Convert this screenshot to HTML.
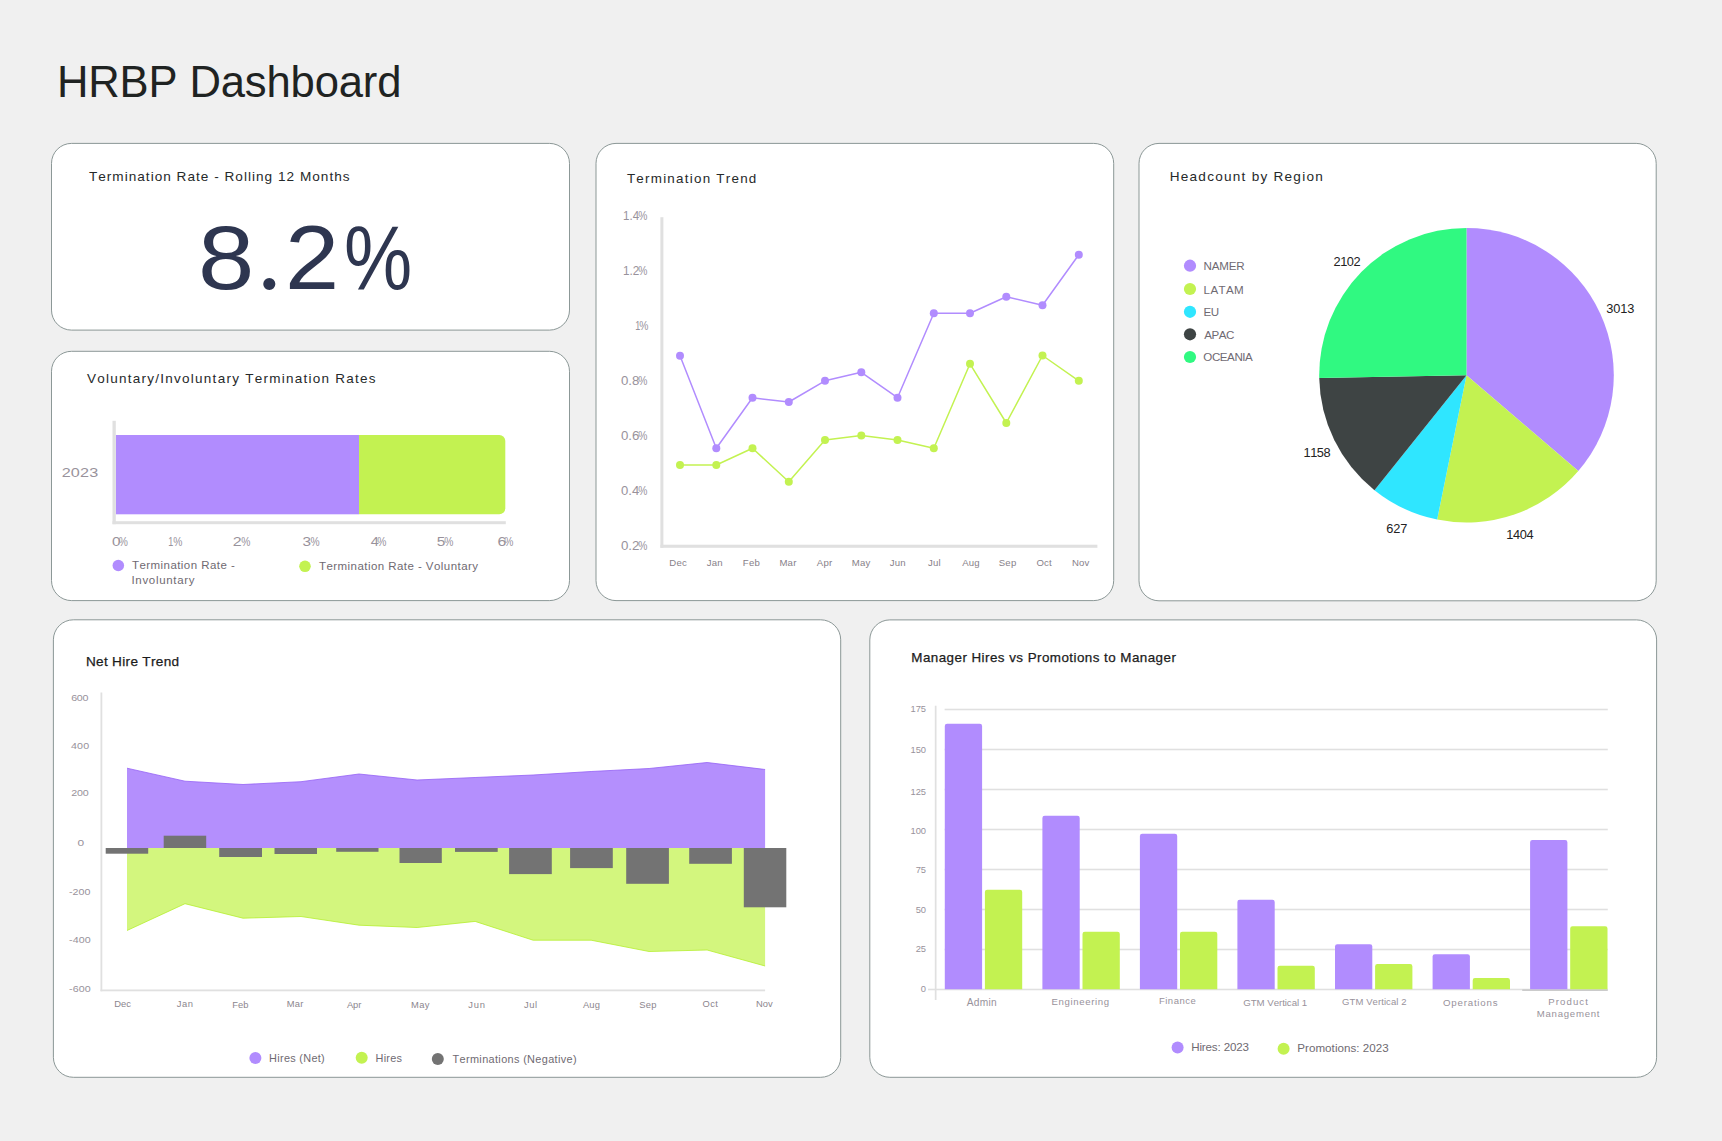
<!DOCTYPE html>
<html lang="en"><head><meta charset="utf-8"><title>HRBP Dashboard</title>
<style>
html,body{margin:0;padding:0}
body{width:1722px;height:1141px;background:#f0f0f0;position:relative;overflow:hidden;font-family:"Liberation Sans",sans-serif}
header,section{position:absolute;margin:0;padding:0}
svg{display:block;overflow:visible}
svg text{font-family:"Liberation Sans",sans-serif;white-space:pre;font-kerning:none}
.card{fill:#fff;stroke:#7f8c8b;stroke-width:.9}
.m{stroke:#1c1c1c;stroke-width:.25px}
</style></head><body>
<main>
<header style="left:40px;top:50px;width:480px;height:65px"><svg width="480" height="65" viewBox="40 50 480 65" role="heading" aria-level="1">
<text x="56.92" y="97.00" font-size="43.6" fill="#1f2322" letter-spacing="-0.151">HRBP Dashboard</text>
</svg></header>
<section id="kpi" aria-label="Termination Rate - Rolling 12 Months" style="left:49px;top:141px;width:523px;height:192px"><svg width="523" height="192" viewBox="49 141 523 192">
<rect class="card" x="51.5" y="143.4" width="518.0" height="186.7" rx="20" ry="20"/>
<text x="88.89" y="181.20" font-size="13.6" fill="#26292a" letter-spacing="1.015">Termination Rate - Rolling 12 Months</text>
<text font-size="91" fill="#2e3650"><tspan x="197.90" y="289.30" textLength="56.30" lengthAdjust="spacingAndGlyphs">8</tspan><tspan x="256.55" y="288.85" style="font-family:'Liberation Serif',serif;font-size:102.375px">.</tspan><tspan x="285.00" y="289.00" textLength="54.20" lengthAdjust="spacingAndGlyphs">2</tspan><tspan x="344.07" y="289.30" textLength="68.17" lengthAdjust="spacingAndGlyphs">%</tspan></text>
</svg></section>
<section id="stackbar" aria-label="Voluntary/Involuntary Termination Rates" style="left:49px;top:349px;width:523px;height:254px"><svg width="523" height="254" viewBox="49 349 523 254">
<rect class="card" x="51.5" y="351.3" width="518.0" height="249.3" rx="20" ry="20"/>
<text x="86.94" y="382.70" font-size="13.5" fill="#26292a" letter-spacing="1.257">Voluntary/Involuntary Termination Rates</text>
<rect x="115.8" y="435" width="243.3" height="79.3" fill="#b18cfe"/>
<path d="M359 435H499.3a6 6 0 0 1 6 6V508.3a6 6 0 0 1 -6 6H359Z" fill="#c3f251"/>
<rect x="112.5" y="420.8" width="3.3" height="103.4" fill="#e0e0e0"/>
<rect x="112.5" y="521.2" width="393.3" height="3" fill="#e0e0e0"/>
<text transform="translate(61.69 477.20) scale(1.2 1)" font-size="13.5" fill="#98929b" letter-spacing="0.136">2023</text>
<text y="546.20" font-size="12" fill="#98929b"><tspan x="111.90" textLength="8.49" lengthAdjust="spacingAndGlyphs">0</tspan><tspan x="118.73" textLength="9.13" lengthAdjust="spacingAndGlyphs">%</tspan></text>
<text y="546.20" font-size="12" fill="#98929b"><tspan x="168.31" textLength="5.03" lengthAdjust="spacingAndGlyphs">1</tspan><tspan x="173.23" textLength="9.13" lengthAdjust="spacingAndGlyphs">%</tspan></text>
<text y="546.20" font-size="12" fill="#98929b"><tspan x="232.69" textLength="8.91" lengthAdjust="spacingAndGlyphs">2</tspan><tspan x="241.23" textLength="9.13" lengthAdjust="spacingAndGlyphs">%</tspan></text>
<text y="546.20" font-size="12" fill="#98929b"><tspan x="302.41" textLength="8.56" lengthAdjust="spacingAndGlyphs">3</tspan><tspan x="310.43" textLength="9.13" lengthAdjust="spacingAndGlyphs">%</tspan></text>
<text y="546.20" font-size="12" fill="#98929b"><tspan x="370.67" textLength="8.06" lengthAdjust="spacingAndGlyphs">4</tspan><tspan x="377.23" textLength="9.13" lengthAdjust="spacingAndGlyphs">%</tspan></text>
<text y="546.20" font-size="12" fill="#98929b"><tspan x="436.88" textLength="8.56" lengthAdjust="spacingAndGlyphs">5</tspan><tspan x="444.23" textLength="9.13" lengthAdjust="spacingAndGlyphs">%</tspan></text>
<text y="546.20" font-size="12" fill="#98929b"><tspan x="497.50" textLength="8.80" lengthAdjust="spacingAndGlyphs">6</tspan><tspan x="504.23" textLength="9.13" lengthAdjust="spacingAndGlyphs">%</tspan></text>
<circle cx="118.3" cy="565.5" r="5.8" fill="#b18cfe"/>
<circle cx="305" cy="566.3" r="5.8" fill="#c3f251"/>
<text x="131.94" y="569.20" font-size="11.5" fill="#6f6a72" letter-spacing="0.444">Termination Rate -</text>
<text x="131.44" y="584.20" font-size="11.5" fill="#6f6a72" letter-spacing="0.683">Involuntary</text>
<text x="318.94" y="570.00" font-size="11.5" fill="#6f6a72" letter-spacing="0.447">Termination Rate - Voluntary</text>
</svg></section>
<section id="linechart" aria-label="Termination Trend" style="left:594px;top:141px;width:522px;height:462px"><svg width="522" height="462" viewBox="594 141 522 462">
<rect class="card" x="596" y="143.4" width="517.7" height="457.2" rx="20" ry="20"/>
<text x="626.90" y="183.00" font-size="13.4" fill="#26292a" letter-spacing="1.249">Termination Trend</text>
<rect x="660.4" y="217.2" width="3" height="330.6" fill="#e0e0e0"/>
<rect x="660.4" y="544.7" width="437" height="3.1" fill="#e0e0e0"/>
<text y="219.70" font-size="12" fill="#98929b"><tspan x="623.12" textLength="16.02" lengthAdjust="spacingAndGlyphs">1.4</tspan><tspan x="638.23" textLength="9.13" lengthAdjust="spacingAndGlyphs">%</tspan></text>
<text y="274.70" font-size="12" fill="#98929b"><tspan x="623.11" textLength="16.28" lengthAdjust="spacingAndGlyphs">1.2</tspan><tspan x="638.23" textLength="9.13" lengthAdjust="spacingAndGlyphs">%</tspan></text>
<text y="329.70" font-size="12" fill="#98929b"><tspan x="635.31" textLength="5.03" lengthAdjust="spacingAndGlyphs">1</tspan><tspan x="639.23" textLength="9.13" lengthAdjust="spacingAndGlyphs">%</tspan></text>
<text y="384.70" font-size="12" fill="#98929b"><tspan x="620.98" textLength="18.39" lengthAdjust="spacingAndGlyphs">0.8</tspan><tspan x="638.23" textLength="9.13" lengthAdjust="spacingAndGlyphs">%</tspan></text>
<text y="439.70" font-size="12" fill="#98929b"><tspan x="620.98" textLength="18.40" lengthAdjust="spacingAndGlyphs">0.6</tspan><tspan x="638.23" textLength="9.13" lengthAdjust="spacingAndGlyphs">%</tspan></text>
<text y="494.70" font-size="12" fill="#98929b"><tspan x="620.99" textLength="18.19" lengthAdjust="spacingAndGlyphs">0.4</tspan><tspan x="638.23" textLength="9.13" lengthAdjust="spacingAndGlyphs">%</tspan></text>
<text y="549.70" font-size="12" fill="#98929b"><tspan x="620.98" textLength="18.49" lengthAdjust="spacingAndGlyphs">0.2</tspan><tspan x="638.23" textLength="9.13" lengthAdjust="spacingAndGlyphs">%</tspan></text>
<polyline points="680.0,465 716.3,465 752.5,448.3 788.8,481.7 825.0,440 861.3,435.5 897.5,440 933.8,448.3 970.0,363.8 1006.3,423 1042.5,355.5 1078.8,380.8" fill="none" stroke="#c3f251" stroke-width="1.5" stroke-linejoin="round"/>
<circle cx="680.0" cy="465" r="4" fill="#c3f251"/>
<circle cx="716.3" cy="465" r="4" fill="#c3f251"/>
<circle cx="752.5" cy="448.3" r="4" fill="#c3f251"/>
<circle cx="788.8" cy="481.7" r="4" fill="#c3f251"/>
<circle cx="825.0" cy="440" r="4" fill="#c3f251"/>
<circle cx="861.3" cy="435.5" r="4" fill="#c3f251"/>
<circle cx="897.5" cy="440" r="4" fill="#c3f251"/>
<circle cx="933.8" cy="448.3" r="4" fill="#c3f251"/>
<circle cx="970.0" cy="363.8" r="4" fill="#c3f251"/>
<circle cx="1006.3" cy="423" r="4" fill="#c3f251"/>
<circle cx="1042.5" cy="355.5" r="4" fill="#c3f251"/>
<circle cx="1078.8" cy="380.8" r="4" fill="#c3f251"/>
<polyline points="680.0,355.7 716.3,448.3 752.5,397.8 788.8,402 825.0,380.8 861.3,372.3 897.5,397.7 933.8,313.3 970.0,313.3 1006.3,296.7 1042.5,305.3 1078.8,254.7" fill="none" stroke="#b18cfe" stroke-width="1.5" stroke-linejoin="round"/>
<circle cx="680.0" cy="355.7" r="4" fill="#b18cfe"/>
<circle cx="716.3" cy="448.3" r="4" fill="#b18cfe"/>
<circle cx="752.5" cy="397.8" r="4" fill="#b18cfe"/>
<circle cx="788.8" cy="402" r="4" fill="#b18cfe"/>
<circle cx="825.0" cy="380.8" r="4" fill="#b18cfe"/>
<circle cx="861.3" cy="372.3" r="4" fill="#b18cfe"/>
<circle cx="897.5" cy="397.7" r="4" fill="#b18cfe"/>
<circle cx="933.8" cy="313.3" r="4" fill="#b18cfe"/>
<circle cx="970.0" cy="313.3" r="4" fill="#b18cfe"/>
<circle cx="1006.3" cy="296.7" r="4" fill="#b18cfe"/>
<circle cx="1042.5" cy="305.3" r="4" fill="#b18cfe"/>
<circle cx="1078.8" cy="254.7" r="4" fill="#b18cfe"/>
<text x="669.36" y="566.20" font-size="9.6" fill="#878189" letter-spacing="0.200">Dec</text>
<text x="706.76" y="566.20" font-size="9.6" fill="#878189" letter-spacing="0.200">Jan</text>
<text x="742.83" y="566.20" font-size="9.6" fill="#878189" letter-spacing="0.200">Feb</text>
<text x="779.43" y="566.20" font-size="9.6" fill="#878189" letter-spacing="0.200">Mar</text>
<text x="816.83" y="566.20" font-size="9.6" fill="#878189" letter-spacing="0.200">Apr</text>
<text x="851.83" y="566.20" font-size="9.6" fill="#878189" letter-spacing="0.200">May</text>
<text x="889.76" y="566.20" font-size="9.6" fill="#878189" letter-spacing="0.200">Jun</text>
<text x="927.96" y="566.20" font-size="9.6" fill="#878189" letter-spacing="0.200">Jul</text>
<text x="962.16" y="566.20" font-size="9.6" fill="#878189" letter-spacing="0.200">Aug</text>
<text x="998.76" y="566.20" font-size="9.6" fill="#878189" letter-spacing="0.200">Sep</text>
<text x="1036.43" y="566.20" font-size="9.6" fill="#878189" letter-spacing="0.200">Oct</text>
<text x="1071.96" y="566.20" font-size="9.6" fill="#878189" letter-spacing="0.200">Nov</text>
</svg></section>
<section id="pie" aria-label="Headcount by Region" style="left:1137px;top:141px;width:522px;height:462px"><svg width="522" height="462" viewBox="1137 141 522 462">
<rect class="card" x="1139" y="143.4" width="517.2" height="457.4" rx="20" ry="20"/>
<text x="1169.68" y="181.20" font-size="13.6" fill="#26292a" letter-spacing="1.244">Headcount by Region</text>
<path d="M1466.5 375.2L1466.50 227.90A147.3 147.3 0 0 1 1578.30 471.10Z" fill="#b18cfe"/>
<path d="M1466.5 375.2L1578.30 471.10A147.3 147.3 0 0 1 1437.16 519.55Z" fill="#c3f251"/>
<path d="M1466.5 375.2L1437.16 519.55A147.3 147.3 0 0 1 1374.46 490.20Z" fill="#2fe6ff"/>
<path d="M1466.5 375.2L1374.46 490.20A147.3 147.3 0 0 1 1319.23 378.10Z" fill="#3e4444"/>
<path d="M1466.5 375.2L1319.23 378.10A147.3 147.3 0 0 1 1466.50 227.90Z" fill="#30f981"/>
<circle cx="1190" cy="265.7" r="6.1" fill="#b18cfe"/>
<text x="1203.55" y="269.90" font-size="11.6" fill="#6f6a72" letter-spacing="-0.175">NAMER</text>
<circle cx="1190" cy="289" r="6.1" fill="#c3f251"/>
<text x="1203.55" y="293.70" font-size="11.6" fill="#6f6a72" letter-spacing="0.382">LATAM</text>
<circle cx="1190" cy="311.8" r="6.1" fill="#2fe6ff"/>
<text x="1203.54" y="316.00" font-size="11.6" fill="#6f6a72" letter-spacing="-0.450">EU</text>
<circle cx="1190" cy="334.3" r="6.1" fill="#3e4444"/>
<text x="1204.24" y="338.50" font-size="11.6" fill="#6f6a72" letter-spacing="-0.450">APAC</text>
<circle cx="1190" cy="357" r="6.1" fill="#30f981"/>
<text x="1203.33" y="361.20" font-size="11.6" fill="#6f6a72" letter-spacing="-0.450">OCEANIA</text>
<text x="1606.21" y="313.00" font-size="12.8" fill="#222" letter-spacing="-0.142">3013</text>
<text x="1333.54" y="265.80" font-size="12.8" fill="#222" letter-spacing="-0.450">2102</text>
<text x="1303.48" y="457.00" font-size="12.8" fill="#222" letter-spacing="-0.450">1158</text>
<text x="1386.35" y="533.00" font-size="12.8" fill="#222" letter-spacing="-0.181">627</text>
<text x="1506.23" y="538.80" font-size="12.8" fill="#222" letter-spacing="-0.342">1404</text>
</svg></section>
<section id="area" aria-label="Net Hire Trend" style="left:51px;top:617px;width:792px;height:463px"><svg width="792" height="463" viewBox="51 617 792 463">
<rect class="card" x="53.4" y="619.8" width="787.3" height="457.5" rx="20" ry="20"/>
<text x="85.88" y="666.20" font-size="13.6" fill="#1c1c1c" letter-spacing="0.316" class="m">Net Hire Trend</text>
<path d="M127.0 848 L127.0 930.5 L185.0 903.7 L243.0 918.2 L301.0 916.5 L359.0 925.2 L417.1 927.5 L475.1 921.4 L533.1 940.2 L591.1 940.2 L649.1 951.5 L707.1 950 L765.1 966 L765.1 848Z" fill="#d3f67e"/>
<polyline points="127.0,930.5 185.0,903.7 243.0,918.2 301.0,916.5 359.0,925.2 417.1,927.5 475.1,921.4 533.1,940.2 591.1,940.2 649.1,951.5 707.1,950 765.1,966" fill="none" stroke="#b5ef2f" stroke-width="0.8"/>
<path d="M127.0 848 L127.0 768.2 L185.0 781.2 L243.0 784.5 L301.0 781.7 L359.0 774 L417.1 780 L475.1 777.5 L533.1 775 L591.1 771.5 L649.1 768.5 L707.1 762.5 L765.1 769.5 L765.1 848Z" fill="#b48ffd"/>
<polyline points="127.0,768.2 185.0,781.2 243.0,784.5 301.0,781.7 359.0,774 417.1,780 475.1,777.5 533.1,775 591.1,771.5 649.1,768.5 707.1,762.5 765.1,769.5" fill="none" stroke="#9461f5" stroke-width="0.8"/>
<rect x="105.7" y="848" width="42.5" height="5.7" fill="#737373"/>
<rect x="163.7" y="835.7" width="42.5" height="12.3" fill="#737373"/>
<rect x="219.2" y="848" width="42.8" height="9.0" fill="#737373"/>
<rect x="274.5" y="848" width="42.5" height="6.0" fill="#737373"/>
<rect x="336.2" y="848" width="42.3" height="3.8" fill="#737373"/>
<rect x="399.5" y="848" width="42.3" height="15.0" fill="#737373"/>
<rect x="455" y="848" width="42.7" height="3.9" fill="#737373"/>
<rect x="509.1" y="848" width="42.7" height="26.1" fill="#737373"/>
<rect x="570.1" y="848" width="42.7" height="20.1" fill="#737373"/>
<rect x="626.2" y="848" width="42.7" height="35.8" fill="#737373"/>
<rect x="689.2" y="848" width="42.7" height="15.8" fill="#737373"/>
<rect x="743.8" y="848" width="42.5" height="59.3" fill="#737373"/>
<rect x="100.5" y="692.5" width="1.8" height="298.8" fill="#e0e0e0"/>
<rect x="100.5" y="989.5" width="664.6" height="1.8" fill="#e0e0e0"/>
<text transform="translate(71.16 701.30) scale(1.15 1)" font-size="9.3" fill="#98929b" letter-spacing="-0.254">600</text>
<text transform="translate(70.95 749.00) scale(1.15 1)" font-size="9.3" fill="#98929b" letter-spacing="0.139">400</text>
<text transform="translate(71.16 796.30) scale(1.15 1)" font-size="9.3" fill="#98929b" letter-spacing="-0.169">200</text>
<text y="845.80" font-size="9.3" fill="#98929b"><tspan x="77.53" textLength="6.63" lengthAdjust="spacingAndGlyphs">0</tspan></text>
<text transform="translate(69.02 895.00) scale(1.15 1)" font-size="9.3" fill="#98929b">-200</text>
<text transform="translate(69.02 943.30) scale(1.15 1)" font-size="9.3" fill="#98929b" letter-spacing="0.083">-400</text>
<text transform="translate(69.02 992.30) scale(1.15 1)" font-size="9.3" fill="#98929b" letter-spacing="0.083">-600</text>
<text x="114.23" y="1007.00" font-size="9.4" fill="#8c868e" letter-spacing="0.001">Dec</text>
<text x="176.85" y="1007.00" font-size="9.4" fill="#8c868e" letter-spacing="0.551">Jan</text>
<text x="232.23" y="1008.00" font-size="9.4" fill="#8c868e" letter-spacing="0.084">Feb</text>
<text x="286.73" y="1007.00" font-size="9.4" fill="#8c868e" letter-spacing="0.219">Mar</text>
<text x="346.98" y="1008.00" font-size="9.4" fill="#8c868e" letter-spacing="-0.127">Apr</text>
<text x="410.93" y="1008.00" font-size="9.4" fill="#8c868e" letter-spacing="0.416">May</text>
<text x="468.15" y="1008.00" font-size="9.4" fill="#8c868e" letter-spacing="0.801">Jun</text>
<text x="523.95" y="1008.00" font-size="9.4" fill="#8c868e" letter-spacing="0.630">Jul</text>
<text x="582.98" y="1008.00" font-size="9.4" fill="#8c868e" letter-spacing="0.099">Aug</text>
<text x="639.27" y="1008.00" font-size="9.4" fill="#8c868e" letter-spacing="0.198">Sep</text>
<text x="702.45" y="1007.00" font-size="9.4" fill="#8c868e" letter-spacing="0.445">Oct</text>
<text x="756.03" y="1007.00" font-size="9.4" fill="#8c868e" letter-spacing="0.044">Nov</text>
<circle cx="255.4" cy="1058" r="6" fill="#b18cfe"/>
<circle cx="361.7" cy="1057.8" r="6" fill="#c3f251"/>
<circle cx="437.8" cy="1058.9" r="6" fill="#737373"/>
<text x="269.11" y="1062.30" font-size="10.9" fill="#6f6a72" letter-spacing="0.298">Hires (Net)</text>
<text x="375.61" y="1062.30" font-size="10.9" fill="#6f6a72" letter-spacing="0.213">Hires</text>
<text x="452.56" y="1063.10" font-size="10.9" fill="#6f6a72" letter-spacing="0.355">Terminations (Negative)</text>
</svg></section>
<section id="bars" aria-label="Manager Hires vs Promotions to Manager" style="left:867px;top:617px;width:792px;height:463px"><svg width="792" height="463" viewBox="867 617 792 463">
<rect class="card" x="869.8" y="619.9" width="786.8" height="457.4" rx="20" ry="20"/>
<text x="911.30" y="662.20" font-size="13.4" fill="#1c1c1c" letter-spacing="0.452" class="m">Manager Hires vs Promotions to Manager</text>
<rect x="944.6" y="708.7" width="663.2" height="1.6" fill="#e0e0e0"/>
<text x="910.61" y="712.00" font-size="9.4" fill="#98929b" letter-spacing="-0.100">175</text>
<rect x="944.6" y="748.7" width="663.2" height="1.6" fill="#e0e0e0"/>
<text x="910.58" y="752.70" font-size="9.4" fill="#98929b" letter-spacing="-0.100">150</text>
<rect x="944.6" y="788.7" width="663.2" height="1.6" fill="#e0e0e0"/>
<text x="910.61" y="794.90" font-size="9.4" fill="#98929b" letter-spacing="-0.100">125</text>
<rect x="944.6" y="828.7" width="663.2" height="1.6" fill="#e0e0e0"/>
<text x="910.58" y="833.90" font-size="9.4" fill="#98929b" letter-spacing="-0.100">100</text>
<rect x="944.6" y="868.7" width="663.2" height="1.6" fill="#e0e0e0"/>
<text x="915.74" y="872.80" font-size="9.4" fill="#98929b" letter-spacing="-0.100">75</text>
<rect x="944.6" y="908.7" width="663.2" height="1.6" fill="#e0e0e0"/>
<text x="915.71" y="912.80" font-size="9.4" fill="#98929b" letter-spacing="-0.100">50</text>
<rect x="944.6" y="948.7" width="663.2" height="1.6" fill="#e0e0e0"/>
<text x="915.74" y="952.00" font-size="9.4" fill="#98929b" letter-spacing="-0.100">25</text>
<rect x="928" y="988.7" width="679.8" height="1.6" fill="#e0e0e0"/>
<text x="920.84" y="991.90" font-size="9.4" fill="#98929b" letter-spacing="-0.100">0</text>
<rect x="934.8" y="705.7" width="1.7" height="294.3" fill="#e0e0e0"/>
<rect x="1522.2" y="989.6" width="85.6" height="1.1" fill="#b9b9b9"/>
<path d="M944.8 989.2V726.0a2.3 2.3 0 0 1 2.3 -2.3H979.8a2.3 2.3 0 0 1 2.3 2.3V989.2Z" fill="#b18cfe"/>
<path d="M984.9 989.2V892.1a2.3 2.3 0 0 1 2.3 -2.3H1019.9a2.3 2.3 0 0 1 2.3 2.3V989.2Z" fill="#c3f251"/>
<path d="M1042.4 989.2V818.1a2.3 2.3 0 0 1 2.3 -2.3H1077.4a2.3 2.3 0 0 1 2.3 2.3V989.2Z" fill="#b18cfe"/>
<path d="M1082.5 989.2V934.0a2.3 2.3 0 0 1 2.3 -2.3H1117.5a2.3 2.3 0 0 1 2.3 2.3V989.2Z" fill="#c3f251"/>
<path d="M1139.9 989.2V836.1a2.3 2.3 0 0 1 2.3 -2.3H1174.9a2.3 2.3 0 0 1 2.3 2.3V989.2Z" fill="#b18cfe"/>
<path d="M1180.0 989.2V934.0a2.3 2.3 0 0 1 2.3 -2.3H1215.0a2.3 2.3 0 0 1 2.3 2.3V989.2Z" fill="#c3f251"/>
<path d="M1237.4 989.2V902.0a2.3 2.3 0 0 1 2.3 -2.3H1272.4a2.3 2.3 0 0 1 2.3 2.3V989.2Z" fill="#b18cfe"/>
<path d="M1277.5 989.2V968.0a2.3 2.3 0 0 1 2.3 -2.3H1312.5a2.3 2.3 0 0 1 2.3 2.3V989.2Z" fill="#c3f251"/>
<path d="M1335 989.2V946.5a2.3 2.3 0 0 1 2.3 -2.3H1370.0a2.3 2.3 0 0 1 2.3 2.3V989.2Z" fill="#b18cfe"/>
<path d="M1375.1 989.2V966.4a2.3 2.3 0 0 1 2.3 -2.3H1410.1a2.3 2.3 0 0 1 2.3 2.3V989.2Z" fill="#c3f251"/>
<path d="M1432.6 989.2V956.5a2.3 2.3 0 0 1 2.3 -2.3H1467.6a2.3 2.3 0 0 1 2.3 2.3V989.2Z" fill="#b18cfe"/>
<path d="M1472.6999999999998 989.2V980.4a2.3 2.3 0 0 1 2.3 -2.3H1507.7a2.3 2.3 0 0 1 2.3 2.3V989.2Z" fill="#c3f251"/>
<path d="M1530.1 989.2V842.3a2.3 2.3 0 0 1 2.3 -2.3H1565.1a2.3 2.3 0 0 1 2.3 2.3V989.2Z" fill="#b18cfe"/>
<path d="M1570.1999999999998 989.2V928.5a2.3 2.3 0 0 1 2.3 -2.3H1605.2a2.3 2.3 0 0 1 2.3 2.3V989.2Z" fill="#c3f251"/>
<text x="966.68" y="1006.10" font-size="10.2" fill="#98929b" letter-spacing="0.293">Admin</text>
<text x="1051.51" y="1004.90" font-size="9.6" fill="#98929b" letter-spacing="0.637">Engineering</text>
<text x="1158.92" y="1004.10" font-size="9.5" fill="#98929b" letter-spacing="0.517">Finance</text>
<text x="1243.31" y="1006.10" font-size="9.7" fill="#98929b" letter-spacing="-0.063">GTM Vertical 1</text>
<text x="1342.12" y="1004.80" font-size="9.5" fill="#98929b" letter-spacing="0.078">GTM Vertical 2</text>
<text x="1443.04" y="1006.10" font-size="9.7" fill="#98929b" letter-spacing="0.785">Operations</text>
<text x="1548.31" y="1004.80" font-size="9.6" fill="#98929b" letter-spacing="1.079">Product</text>
<text x="1536.81" y="1016.80" font-size="9.6" fill="#98929b" letter-spacing="0.747">Management</text>
<circle cx="1177.6" cy="1047.5" r="6" fill="#b18cfe"/>
<circle cx="1283.6" cy="1048.8" r="6" fill="#c3f251"/>
<text x="1191.15" y="1051.30" font-size="11.6" fill="#6f6a72" letter-spacing="-0.136">Hires: 2023</text>
<text x="1297.25" y="1052.30" font-size="11.6" fill="#6f6a72" letter-spacing="0.043">Promotions: 2023</text>
</svg></section>
</main>
</body></html>
